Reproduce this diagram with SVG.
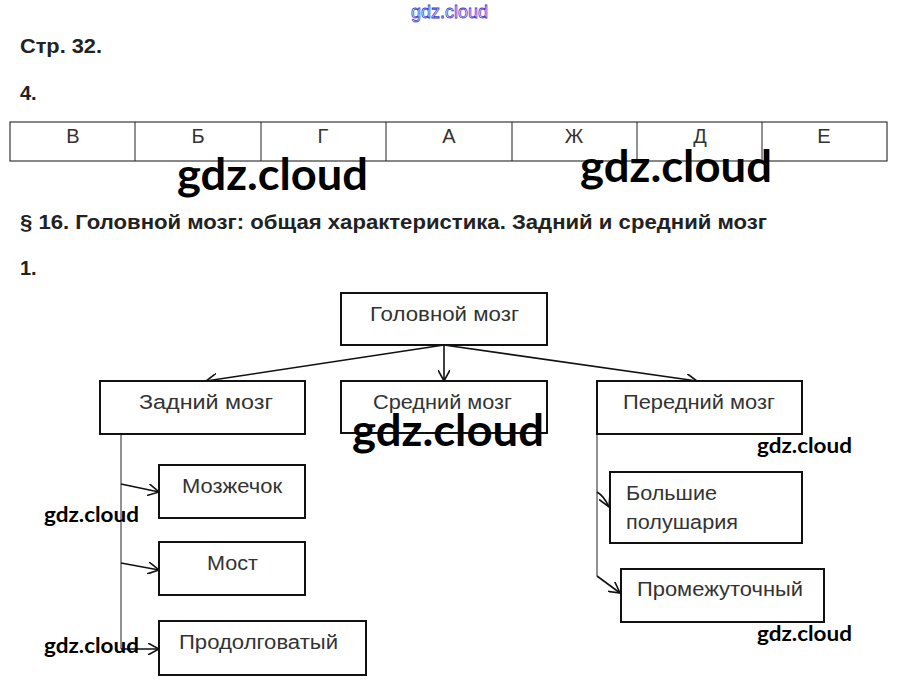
<svg xmlns="http://www.w3.org/2000/svg" width="899" height="695" viewBox="0 0 899 695">
<style>
.hd{font-family:"Liberation Sans",Arial,sans-serif;font-weight:bold;font-size:20px;fill:#222}
.cell{font-family:"Liberation Sans",Arial,sans-serif;font-size:20px;fill:#333;text-anchor:middle}
.box{fill:#fff;stroke:#111;stroke-width:2}
.lbl{font-family:"Liberation Sans",Arial,sans-serif;font-size:20px;fill:#333}
.wm{font-family:Lato,"Open Sans",sans-serif;font-weight:bold;fill:#000}
.con{fill:none;stroke:#111;stroke-width:1.6}
.thin{fill:none;stroke:#222;stroke-width:1}
</style>
<defs>
<marker id="ah" viewBox="0 0 12 12" refX="11" refY="6" markerWidth="12" markerHeight="12" markerUnits="userSpaceOnUse" orient="auto">
<path d="M0,0 L11,6 L0,12" fill="none" stroke="#111" stroke-width="1.6"/>
</marker>
</defs>
<rect width="899" height="695" fill="#fff"/>
<text x="411" y="18" font-family="Liberation Sans,Arial,sans-serif" font-size="18" fill="#fff" stroke="#4040d0" stroke-width="0.8" textLength="77" lengthAdjust="spacingAndGlyphs">gdz.cloud</text>
<text class="hd" x="20" y="53" font-size="21" textLength="82" lengthAdjust="spacingAndGlyphs">Стр. 32.</text>
<text class="hd" x="20" y="100" font-size="21">4.</text>
<g id="table">
<rect x="10" y="122" width="877" height="39" fill="none" stroke="#111" stroke-width="1"/>
<path class="thin" d="M135,122V161M261,122V161M386,122V161M512,122V161M637,122V161M762,122V161"/>
<text class="cell" x="73" y="143">В</text>
<text class="cell" x="198" y="143">Б</text>
<text class="cell" x="323" y="143">Г</text>
<text class="cell" x="449" y="143">А</text>
<text class="cell" x="574" y="143">Ж</text>
<text class="cell" x="700" y="143">Д</text>
<text class="cell" x="824" y="143">Е</text>
</g>
<text class="hd" x="20" y="229" font-size="22" textLength="747" lengthAdjust="spacingAndGlyphs">§ 16. Головной мозг: общая характеристика. Задний и средний мозг</text>
<text class="hd" x="20" y="275" font-size="21">1.</text>
<g id="connectors">
<line class="con" x1="444" y1="345" x2="206" y2="381" marker-end="url(#ah)"/>
<line class="con" x1="444" y1="345" x2="444" y2="381" marker-end="url(#ah)"/>
<line class="con" x1="444" y1="345" x2="697" y2="381" marker-end="url(#ah)"/>
<line class="thin" x1="121" y1="434" x2="121" y2="649"/>
<line class="con" x1="121" y1="484" x2="159" y2="492" marker-end="url(#ah)"/>
<line class="con" x1="121" y1="563" x2="159" y2="570" marker-end="url(#ah)"/>
<line class="con" x1="121" y1="649" x2="159" y2="649" marker-end="url(#ah)"/>
<path class="thin" d="M597,434V576"/>
<path class="con" d="M597,492 Q604,496 609,507" marker-end="url(#ah)"/>
<line class="con" x1="597" y1="576" x2="620" y2="593" marker-end="url(#ah)"/>
</g>
<g id="n-golovnoy"><rect class="box" x="341" y="293" width="206" height="52"/><text class="lbl" x="370" y="321" textLength="149" lengthAdjust="spacingAndGlyphs">Головной мозг</text></g>
<g id="n-zadniy"><rect class="box" x="100" y="381" width="205" height="53"/><text class="lbl" x="139" y="409" textLength="134" lengthAdjust="spacingAndGlyphs">Задний мозг</text></g>
<g id="n-sredniy"><rect class="box" x="341" y="381" width="206" height="52"/><text class="lbl" x="373" y="409" textLength="139" lengthAdjust="spacingAndGlyphs">Средний мозг</text></g>
<g id="n-peredniy"><rect class="box" x="597" y="381" width="205" height="53"/><text class="lbl" x="623" y="409" textLength="152" lengthAdjust="spacingAndGlyphs">Передний мозг</text></g>
<g id="n-mozzhechok"><rect class="box" x="159" y="465" width="146" height="53"/><text class="lbl" x="182" y="493" textLength="100" lengthAdjust="spacingAndGlyphs">Мозжечок</text></g>
<g id="n-most"><rect class="box" x="159" y="542" width="146" height="53"/><text class="lbl" x="207" y="570" textLength="51" lengthAdjust="spacingAndGlyphs">Мост</text></g>
<g id="n-prodolg"><rect class="box" x="159" y="621" width="207" height="54"/><text class="lbl" x="179" y="649" textLength="159" lengthAdjust="spacingAndGlyphs">Продолговатый</text></g>
<g id="n-bolshie"><rect class="box" x="610" y="472" width="192" height="71"/><text class="lbl" x="626" y="500" textLength="91" lengthAdjust="spacingAndGlyphs">Большие</text><text class="lbl" x="626" y="529" textLength="112" lengthAdjust="spacingAndGlyphs">полушария</text></g>
<g id="n-promezh"><rect class="box" x="621" y="569" width="203" height="53"/><text class="lbl" x="637" y="596" textLength="166" lengthAdjust="spacingAndGlyphs">Промежуточный</text></g>
<text class="wm" x="177" y="190" font-size="44" textLength="191" lengthAdjust="spacingAndGlyphs">gdz.cloud</text>
<text class="wm" x="580" y="182" font-size="44" textLength="192" lengthAdjust="spacingAndGlyphs">gdz.cloud</text>
<text class="wm" x="352" y="446" font-size="44" textLength="192" lengthAdjust="spacingAndGlyphs">gdz.cloud</text>
<text class="wm" x="757" y="453" font-size="21" textLength="95" lengthAdjust="spacingAndGlyphs">gdz.cloud</text>
<text class="wm" x="44" y="522" font-size="21" textLength="95" lengthAdjust="spacingAndGlyphs">gdz.cloud</text>
<text class="wm" x="44" y="653" font-size="21" textLength="95" lengthAdjust="spacingAndGlyphs">gdz.cloud</text>
<text class="wm" x="757" y="641" font-size="21" textLength="95" lengthAdjust="spacingAndGlyphs">gdz.cloud</text>
</svg>
